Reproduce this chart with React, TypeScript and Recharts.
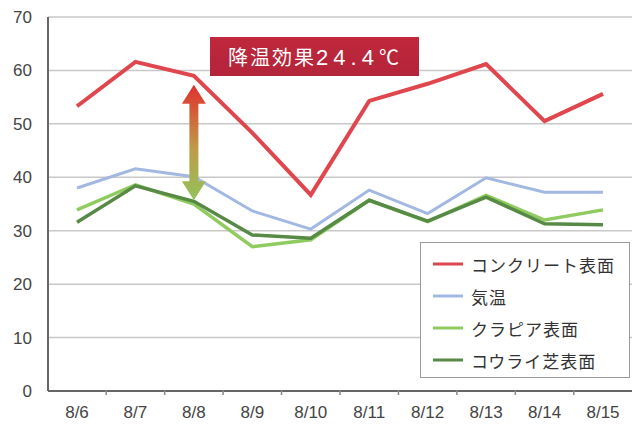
import { LineChart, Line, XAxis, YAxis, CartesianGrid, Legend, ReferenceLine } from 'recharts'

const days = ['8/6', '8/7', '8/8', '8/9', '8/10', '8/11', '8/12', '8/13', '8/14', '8/15']
const concrete = [53.3, 61.6, 59.0, 48.3, 36.7, 54.3, 57.5, 61.2, 50.5, 55.6]
const airTemp = [38.0, 41.6, 40.1, 33.7, 30.3, 37.6, 33.2, 39.9, 37.2, 37.2]
const kurapia = [33.9, 38.6, 35.0, 27.0, 28.3, 35.7, 31.7, 36.6, 32.0, 33.9]
const kourai = [31.6, 38.4, 35.5, 29.2, 28.6, 35.7, 31.8, 36.3, 31.3, 31.1]
const yTicks = [0, 10, 20, 30, 40, 50, 60, 70]

const seriesNames = ['コンクリート表面', '気温', 'クラピア表面', 'コウライ芝表面']
const seriesColors = ['#e0464d', '#a2b8e2', '#8fcb5e', '#568a45']
const seriesWidths = [4, 3, 3.5, 3.5]

const data = days.map((day, i) => ({
  day,
  s0: concrete[i],
  s1: airTemp[i],
  s2: kurapia[i],
  s3: kourai[i],
}))

const numFont = '"Liberation Sans", Arial, sans-serif'
const jpFont = '"Noto Sans CJK JP", "Noto Sans", sans-serif'

const XTick = (props: any) => {
  const { x, y, payload, index, visibleTicksCount } = props
  const half = 29.2
  return (
    <g>
      {index < visibleTicksCount - 1 && (
        <line x1={x + half} x2={x + half} y1={y - 9} y2={y - 4} stroke="#888" strokeWidth={1.5} />
      )}
      <text x={x} y={y + 19} textAnchor="middle" fill="#444" fontSize={17} fontFamily={numFont}>
        {payload.value}
      </text>
    </g>
  )
}

const DoubleArrow = (props: any) => {
  const { x1, y1, y2 } = props
  const top = Math.min(y1, y2)
  const bottom = Math.max(y1, y2)
  const head = 19
  const hw = 12
  const sw = 4.5
  const d = [
    `M${x1},${top}`,
    `L${x1 + hw},${top + head}`,
    `L${x1 + sw},${top + head}`,
    `L${x1 + sw},${bottom - head}`,
    `L${x1 + hw},${bottom - head}`,
    `L${x1},${bottom}`,
    `L${x1 - hw},${bottom - head}`,
    `L${x1 - sw},${bottom - head}`,
    `L${x1 - sw},${top + head}`,
    `L${x1 - hw},${top + head}`,
    'Z',
  ].join(' ')
  return (
    <g>
      <defs>
        <linearGradient id="arrowGrad" x1="0" y1="0" x2="0" y2="1">
          <stop offset="0%" stopColor="#e0302f" />
          <stop offset="55%" stopColor="#bf9a48" />
          <stop offset="100%" stopColor="#93c35a" />
        </linearGradient>
      </defs>
      <path d={d} fill="url(#arrowGrad)" />
    </g>
  )
}

const renderLegend = () => (
  <div
    style={{
      border: '1.5px solid #9a9a9a',
      background: '#fff',
      padding: '5px 0 0 12px',
      boxSizing: 'border-box',
      width: 210,
      height: 136,
    }}
  >
    {seriesNames.map((name, i) => (
      <div key={name} style={{ display: 'flex', alignItems: 'center', height: 32 }}>
        <svg width={30} height={10} style={{ marginRight: 8 }}>
          <line x1={0} x2={30} y1={5} y2={5} stroke={seriesColors[i]} strokeWidth={3} />
        </svg>
        <span style={{ fontFamily: jpFont, fontSize: 17, color: '#333', letterSpacing: 1 }}>{name}</span>
      </div>
    ))}
  </div>
)

export default function App() {
  return (
    <div style={{ position: 'absolute', left: 0, top: 0, width: 640, height: 428, background: '#fff' }}>
      <LineChart width={640} height={428} data={data} margin={{ top: 17, right: 8, bottom: 7, left: 0 }}>
        <CartesianGrid vertical={false} stroke="#c8c8c8" strokeWidth={1.5} />
        <XAxis
          dataKey="day"
          padding={{ left: 29, right: 29 }}
          axisLine={{ stroke: '#666', strokeWidth: 2 }}
          tickLine={false}
          tick={<XTick />}
          height={30}
          interval={0}
        />
        <YAxis
          domain={[0, 70]}
          ticks={yTicks}
          width={48}
          axisLine={{ stroke: '#666', strokeWidth: 2 }}
          tickLine={false}
          tick={{ fill: '#444', fontSize: 17, fontFamily: numFont }}
          tickMargin={10}
        />
        <YAxis
          yAxisId="frame"
          orientation="right"
          domain={[0, 70]}
          width={0}
          tick={false}
          tickLine={false}
          axisLine={{ stroke: '#c8c8c8', strokeWidth: 1.5 }}
        />
        {seriesNames.map((name, i) => (
          <Line
            key={name}
            dataKey={`s${i}`}
            name={name}
            type="linear"
            stroke={seriesColors[i]}
            strokeWidth={seriesWidths[i]}
            dot={false}
            activeDot={false}
            isAnimationActive={false}
          />
        ))}
        <ReferenceLine
          segment={[
            { x: '8/8', y: 57.3 },
            { x: '8/8', y: 35.7 },
          ]}
          shape={<DoubleArrow />}
        />
        <Legend
          layout="vertical"
          align="center"
          verticalAlign="middle"
          content={renderLegend}
          wrapperStyle={{ top: 242, left: 420, width: 210, height: 136 }}
        />
      </LineChart>
      <div
        style={{
          position: 'absolute',
          left: 210,
          top: 37,
          width: 209,
          height: 39,
          background: 'linear-gradient(#c0283c, #b3243a)',
          color: '#fff',
          fontFamily: jpFont,
          fontSize: 20,
          lineHeight: '39px',
          textAlign: 'center',
          letterSpacing: 2,
          boxSizing: 'border-box',
        }}
      >
        降温効果<span style={{ fontFamily: numFont, fontSize: 22, letterSpacing: 5 }}>24.4</span>℃
      </div>
    </div>
  )
}
